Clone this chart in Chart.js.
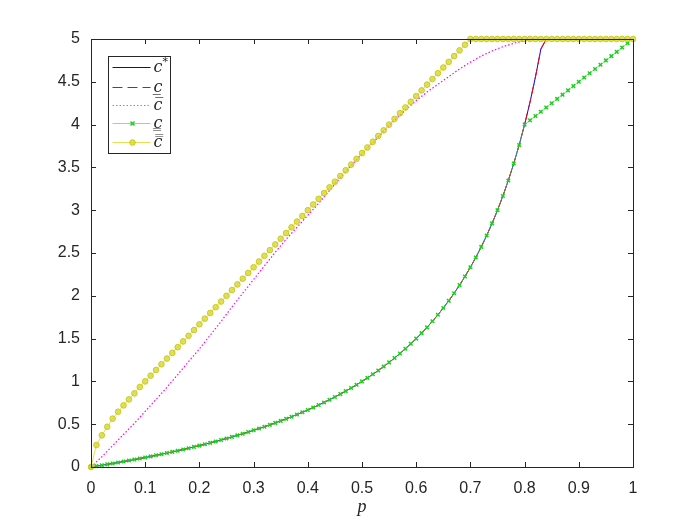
<!DOCTYPE html>
<html>
<head>
<meta charset="utf-8">
<script src="https://cdn.jsdelivr.net/npm/chart.js@4/dist/chart.umd.min.js"></script>
<style>
    html, body { margin: 0; padding: 0; background: #fff; }
</style>
</head>
<body>
<canvas id="chart" width="700" height="525"></canvas>
<script>
'use strict';

// p values, step 0.01
const pValues = [
    0, 0.01, 0.02, 0.03, 0.04, 0.05, 0.06, 0.07, 0.08, 0.09,
    0.1, 0.11, 0.12, 0.13, 0.14, 0.15, 0.16, 0.17, 0.18, 0.19,
    0.2, 0.21, 0.22, 0.23, 0.24, 0.25, 0.26, 0.27, 0.28, 0.29,
    0.3, 0.31, 0.32, 0.33, 0.34, 0.35, 0.36, 0.37, 0.38, 0.39,
    0.4, 0.41, 0.42, 0.43, 0.44, 0.45, 0.46, 0.47, 0.48, 0.49,
    0.5, 0.51, 0.52, 0.53, 0.54, 0.55, 0.56, 0.57, 0.58, 0.59,
    0.6, 0.61, 0.62, 0.63, 0.64, 0.65, 0.66, 0.67, 0.68, 0.69,
    0.7, 0.71, 0.72, 0.73, 0.74, 0.75, 0.76, 0.77, 0.78, 0.79,
    0.8, 0.81, 0.82, 0.83, 0.84, 0.85, 0.86, 0.87, 0.88, 0.89,
    0.9, 0.91, 0.92, 0.93, 0.94, 0.95, 0.96, 0.97, 0.98, 0.99, 1
];

// c* (and c underline, which lies on top of it)
const cStar = [
    0, 0.0101, 0.0204, 0.0309, 0.0417, 0.0526, 0.0638, 0.0753, 0.087, 0.0989,
    0.1111, 0.1236, 0.1364, 0.1494, 0.1628, 0.1765, 0.1905, 0.2048, 0.2195, 0.2346,
    0.25, 0.2658, 0.2821, 0.2987, 0.3158, 0.3333, 0.3514, 0.3699, 0.3889, 0.4085,
    0.4286, 0.4493, 0.4706, 0.4925, 0.5152, 0.5385, 0.5625, 0.5873, 0.6129, 0.6393,
    0.6667, 0.6949, 0.7241, 0.7544, 0.7857, 0.8182, 0.8519, 0.8868, 0.9231, 0.9608,
    1, 1.0408, 1.0833, 1.1277, 1.1739, 1.2222, 1.2727, 1.3256, 1.381, 1.439,
    1.5, 1.5641, 1.6316, 1.7027, 1.7778, 1.8571, 1.9412, 2.0303, 2.125, 2.2258,
    2.3333, 2.4483, 2.5714, 2.7037, 2.8462, 3, 3.1667, 3.3478, 3.5455, 3.7619,
    4, 4.2632, 4.5556, 4.8824, 5, 5, 5, 5, 5, 5,
    5, 5, 5, 5, 5, 5, 5, 5, 5, 5, 5
];
const cUnder = cStar.slice();

// c double underline: follows c* up to p = 0.8, then a straight rise
const cDoubleUnder = cStar.slice(0, 81).concat([
    4.05, 4.1, 4.15, 4.2, 4.25, 4.3, 4.35, 4.4, 4.45, 4.5,
    4.55, 4.6, 4.65, 4.7, 4.75, 4.8, 4.85, 4.9, 4.95
]);

// c double overline
const cDoubleOver = [
    0, 0.257, 0.37, 0.47, 0.565, 0.646, 0.72, 0.79, 0.86, 0.935,
    1, 1.067, 1.133, 1.2, 1.267, 1.333, 1.4, 1.467, 1.533, 1.6,
    1.667, 1.733, 1.8, 1.867, 1.933, 2, 2.067, 2.133, 2.2, 2.267,
    2.333, 2.4, 2.467, 2.533, 2.6, 2.667, 2.733, 2.8, 2.867, 2.933,
    3, 3.067, 3.133, 3.2, 3.267, 3.333, 3.4, 3.467, 3.533, 3.6,
    3.667, 3.733, 3.8, 3.867, 3.933, 4, 4.067, 4.133, 4.2, 4.267,
    4.333, 4.4, 4.467, 4.533, 4.6, 4.667, 4.733, 4.8, 4.867, 4.933,
    5, 5, 5, 5, 5, 5, 5, 5, 5, 5,
    5, 5, 5, 5, 5, 5, 5, 5, 5, 5,
    5, 5, 5, 5, 5, 5, 5, 5, 5, 5, 5
];

// c overline, step 0.02
const pOver = [
    0, 0.02, 0.04, 0.06, 0.08, 0.1, 0.12, 0.14, 0.16, 0.18,
    0.2, 0.22, 0.24, 0.26, 0.28, 0.3, 0.32, 0.34, 0.36, 0.38,
    0.4, 0.42, 0.44, 0.46, 0.48, 0.5, 0.52, 0.54, 0.56, 0.58,
    0.6, 0.62, 0.64, 0.66, 0.68, 0.7, 0.72, 0.74, 0.76, 0.78,
    0.8, 0.82, 0.84, 0.86, 0.88, 0.9, 0.92, 0.94, 0.96, 0.98, 1
];
const cOver = [
    0, 0.12, 0.25, 0.38, 0.51, 0.65, 0.79, 0.93, 1.08, 1.23,
    1.38, 1.54, 1.7, 1.87, 2.03, 2.19, 2.35, 2.51, 2.66, 2.8,
    2.94, 3.08, 3.23, 3.38, 3.52, 3.66, 3.79, 3.92, 4.05, 4.17,
    4.28, 4.38, 4.47, 4.56, 4.65, 4.73, 4.8, 4.86, 4.91, 4.95,
    4.98, 5, 5, 5, 5, 5, 5, 5, 5, 5, 5
];

const legendLabels = ['c*', 'c\u0332', 'c\u0305', 'c\u0333', 'c\u033F'];

const AXIS_COLOR = '#262626';
const TICK_FONT = { family: '"Liberation Sans", Arial, Helvetica, sans-serif', size: 16 };
const LABEL_FONT = '"DejaVu Serif", "Liberation Serif", serif';

function points(xs, ys) {
    return ys.map((y, i) => ({ x: xs[i], y: y }));
}

const fmt = v => String(Math.round(v * 100) / 100);

// box and inside tick marks, like the original figure
const axesBox = {
    id: 'axesBox',
    afterDraw(chart) {
        const { ctx, chartArea: a, scales } = chart;
        ctx.save();
        ctx.strokeStyle = AXIS_COLOR;
        ctx.lineWidth = 1;
        ctx.beginPath();
        scales.x.ticks.forEach(t => {
            const x = Math.round(scales.x.getPixelForValue(t.value)) + 0.5;
            ctx.moveTo(x, a.bottom); ctx.lineTo(x, a.bottom - 5);
            ctx.moveTo(x, a.top); ctx.lineTo(x, a.top + 5);
        });
        scales.y.ticks.forEach(t => {
            const y = Math.round(scales.y.getPixelForValue(t.value)) + 0.5;
            ctx.moveTo(a.left, y); ctx.lineTo(a.left + 5, y);
            ctx.moveTo(a.right, y); ctx.lineTo(a.right - 5, y);
        });
        ctx.stroke();
        ctx.strokeRect(Math.round(a.left) + 0.5, Math.round(a.top) + 0.5,
            Math.round(a.right - a.left), Math.round(a.bottom - a.top));
        ctx.restore();
    }
};

// legend box drawn in the upper left corner of the axes
const boxLegend = {
    id: 'boxLegend',
    afterDraw(chart) {
        const { ctx, chartArea: a } = chart;
        const left = a.left + 17.5, top = a.top + 17.5, w = 62, h = 97;
        const rows = [28, 48, 66, 84, 103];
        ctx.save();
        ctx.fillStyle = '#fff';
        ctx.fillRect(left, top, w, h);
        ctx.strokeStyle = AXIS_COLOR;
        ctx.lineWidth = 1;
        ctx.strokeRect(left, top, w, h);
        chart.data.datasets.forEach((ds, i) => {
            const y = Math.round(a.top + rows[i]) + 0.5;
            const x0 = left + 4, x1 = left + 42;
            ctx.save();
            ctx.strokeStyle = ds.legendLine;
            ctx.lineWidth = 1;
            ctx.setLineDash(ds.borderDash || []);
            ctx.beginPath();
            ctx.moveTo(x0, y); ctx.lineTo(x1, y);
            ctx.stroke();
            ctx.restore();
            const mx = Math.round((x0 + x1) / 2) + 0.5;
            if (ds.pointStyle === 'crossRot') {
                ctx.strokeStyle = ds.pointBorderColor;
                ctx.lineWidth = ds.pointBorderWidth;
                ctx.beginPath();
                ctx.moveTo(mx - 2, y - 2); ctx.lineTo(mx + 2, y + 2);
                ctx.moveTo(mx - 2, y + 2); ctx.lineTo(mx + 2, y - 2);
                ctx.stroke();
            } else if (ds.pointRadius > 0) {
                ctx.fillStyle = ds.pointBackgroundColor;
                ctx.strokeStyle = ds.pointBorderColor;
                ctx.lineWidth = ds.pointBorderWidth;
                ctx.beginPath();
                ctx.arc(mx, y, ds.pointRadius, 0, Math.PI * 2);
                ctx.fill(); ctx.stroke();
            }
            ctx.fillStyle = AXIS_COLOR;
            ctx.textBaseline = 'alphabetic';
            ctx.textAlign = 'left';
            const label = legendLabels[i];
            const tx = left + 45, ty = y + 4;
            if (label.endsWith('*')) {
                ctx.font = 'italic 16px ' + LABEL_FONT;
                ctx.fillText(label.slice(0, -1), tx, ty);
                const cw = ctx.measureText(label.slice(0, -1)).width;
                ctx.font = '11px ' + LABEL_FONT;
                ctx.fillText('*', tx + cw, ty - 7);
            } else {
                ctx.font = 'italic 16px ' + LABEL_FONT;
                ctx.fillText(label, tx, ty);
            }
        });
        ctx.restore();
    }
};

new Chart(document.getElementById('chart'), {
    type: 'line',
    data: {
        datasets: [
            {
                label: legendLabels[0],
                data: points(pValues, cStar),
                borderColor: '#0000ff',
                legendLine: '#0000ff',
                borderWidth: 1,
                pointRadius: 0,
                order: 4
            },
            {
                label: legendLabels[1],
                data: points(pValues, cUnder),
                borderColor: '#ff0000',
                legendLine: '#ff0000',
                borderWidth: 1,
                borderDash: [10, 5],
                pointRadius: 0,
                order: 3
            },
            {
                label: legendLabels[2],
                data: points(pOver, cOver),
                borderColor: '#ff00ff',
                legendLine: '#ff44ff',
                borderWidth: 1.2,
                borderDash: [1.5, 2],
                pointRadius: 0,
                order: 2
            },
            {
                label: legendLabels[3],
                data: points(pValues, cDoubleUnder),
                borderColor: 'rgba(60, 210, 60, 0.6)',
                legendLine: 'rgba(60, 210, 60, 0.6)',
                borderWidth: 1,
                pointStyle: 'crossRot',
                pointRadius: 2.5,
                pointBorderColor: '#1fcf1f',
                pointBorderWidth: 1.5,
                clip: false,
                order: 1
            },
            {
                label: legendLabels[4],
                data: points(pValues, cDoubleOver),
                borderColor: 'rgba(215, 215, 30, 0.75)',
                legendLine: 'rgba(215, 215, 30, 0.75)',
                borderWidth: 1,
                pointStyle: 'circle',
                pointRadius: 2.8,
                pointBackgroundColor: 'rgba(215, 215, 40, 0.75)',
                pointBorderColor: '#c9c920',
                pointBorderWidth: 1,
                clip: false,
                order: 0
            }
        ]
    },
    options: {
        responsive: false,
        animation: false,
        devicePixelRatio: 1,
        layout: { padding: { left: 0, top: 39, right: 67, bottom: 0 } },
        elements: { line: { tension: 0 } },
        plugins: {
            legend: { display: false },
            tooltip: { enabled: false }
        },
        scales: {
            x: {
                type: 'linear',
                min: 0,
                max: 1,
                grid: { display: false, drawTicks: false },
                border: { display: false },
                ticks: { stepSize: 0.1, padding: 12, color: AXIS_COLOR, font: TICK_FONT, callback: fmt, maxRotation: 0 },
                title: {
                    display: true,
                    text: 'p',
                    color: AXIS_COLOR,
                    padding: { top: 0, bottom: 7 },
                    font: { family: '"Liberation Serif", "DejaVu Serif", serif', size: 18, style: 'italic' }
                },
                afterFit(scale) { scale.height = 58; }
            },
            y: {
                min: 0,
                max: 5,
                grid: { display: false, drawTicks: false },
                border: { display: false },
                ticks: { stepSize: 0.5, padding: 11, color: AXIS_COLOR, font: TICK_FONT, callback: fmt },
                afterFit(scale) { scale.width = 91; }
            }
        }
    },
    plugins: [axesBox, boxLegend]
});
</script>
</body>
</html>
